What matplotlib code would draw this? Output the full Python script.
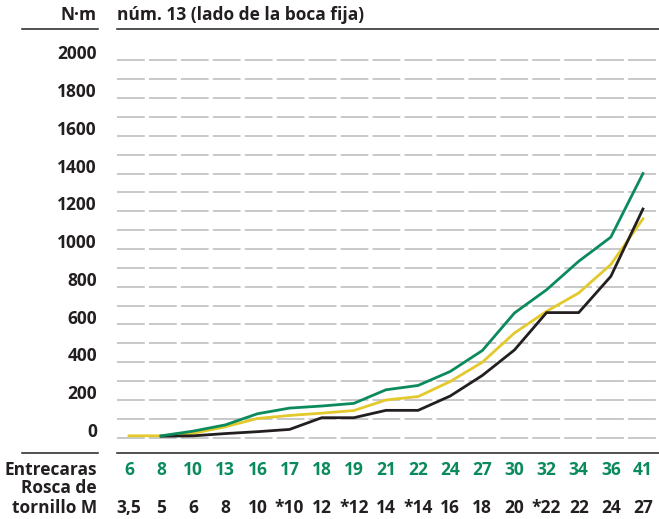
import matplotlib
matplotlib.use("Agg")
import matplotlib.pyplot as plt
from matplotlib import transforms
from matplotlib.lines import Line2D
import numpy as np

# Valores de par (N·m) por tamaño de llave
entrecaras = [6, 8, 10, 13, 16, 17, 18, 19, 21, 22, 24, 27, 30, 32, 34, 36, 41]
rosca = ["3,5", "5", "6", "8", "10", "*10", "12", "*12", "14", "*14",
         "16", "18", "20", "*22", "22", "24", "27"]
par_verde = [np.nan, 10, 35, 68, 127, 157, 168, 182, 254, 277, 351, 462,
             661, 784, 935, 1063, 1400]
par_amarillo = [10, 10, 23, 58, 102, 118, 130, 144, 200, 218, 298, 400,
                555, 670, 767, 918, 1160]
par_negro = [np.nan, 8, 10, 22, 32, 44, 106, 106, 145, 145, 221, 330,
             465, 663, 663, 855, 1212]
yticks = list(range(0, 2001, 200))
grid_vals = list(range(0, 2001, 100))

VERDE = "#0b8a5c"
AMARILLO = "#e3c92b"
NEGRO = "#231f20"
GRIS = "#c4c4c4"
FS = 12.5

plt.rcParams["font.family"] = ["Open Sans", "DejaVu Sans"]
plt.rcParams["font.weight"] = "bold"
plt.rcParams["lines.scale_dashes"] = False

W, H = 659, 519
fig = plt.figure(figsize=(W / 100, H / 100), dpi=100)


def fx(x):
    return x / W


def fy(y):
    return 1 - y / H


ax = fig.add_axes([fx(116.7), fy(453), 1 - fx(116.7), fy(29) - fy(453)])
ax.set_xlim(-0.383, 16.5)
ax.set_ylim(-81, 2166)
ax.axis("off")

x = np.arange(len(entrecaras))

for v in grid_vals:
    ax.axhline(v, color=GRIS, lw=1.3, dashes=(20.0, 3.0), zorder=1)

ax.plot(x, par_amarillo, color=AMARILLO, lw=2.0, zorder=3)
ax.plot(x, par_negro, color=NEGRO, lw=2.0, zorder=4)
ax.plot(x, par_verde, color=VERDE, lw=2.0, zorder=5)

# etiquetas del eje Y, algo por encima de su línea
ylab_tr = transforms.offset_copy(
    transforms.blended_transform_factory(fig.transFigure, ax.transData),
    fig=fig, x=0, y=4.3, units="points")
for v in yticks:
    fig.text(fx(97), v, str(v), transform=ylab_tr, ha="right", va="center",
             fontsize=FS, color=NEGRO)

# filas de categorías bajo el gráfico
cat_tr = transforms.blended_transform_factory(ax.transData, fig.transFigure)
for i, (e, r) in enumerate(zip(entrecaras, rosca)):
    ax.text(i, fy(470), str(e), transform=cat_tr, ha="center", va="center",
            fontsize=FS, color=VERDE)
    ax.text(i, fy(508), r, transform=cat_tr, ha="center", va="center",
            fontsize=FS, color=NEGRO)

fig.text(fx(97), fy(470), "Entrecaras", ha="right", va="center",
         fontsize=FS, color=NEGRO)
fig.text(fx(97), fy(488), "Rosca de", ha="right", va="center",
         fontsize=FS, color=NEGRO)
fig.text(fx(97), fy(508), "tornillo M", ha="right", va="center",
         fontsize=FS, color=NEGRO)

fig.text(fx(97), fy(15), "N·m", ha="right", va="center",
         fontsize=FS, color=NEGRO)
fig.text(fx(117), fy(15), "núm. 13 (lado de la boca fija)", ha="left",
         va="center", fontsize=FS, color=NEGRO)

# reglas horizontales de cabecera y pie
for x0, x1, y in [(22.5, 97.5, 29), (116.5, 659, 29),
                  (22.5, 97.5, 453), (116.5, 659, 453)]:
    fig.add_artist(Line2D([fx(x0), fx(x1)], [fy(y), fy(y)],
                          transform=fig.transFigure, color=NEGRO, lw=1.1))

fig.savefig("out.png", dpi=100)
